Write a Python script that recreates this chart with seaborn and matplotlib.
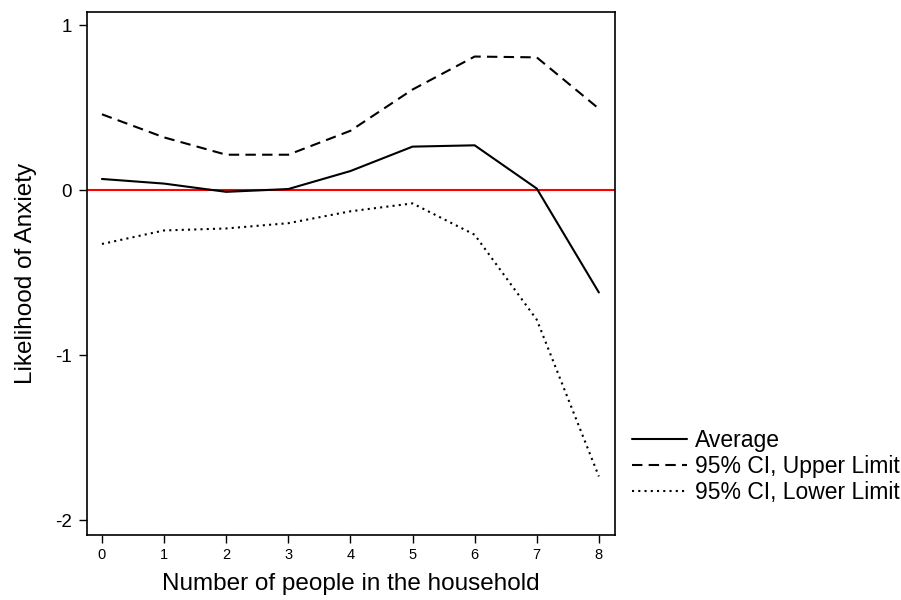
import numpy as np
import pandas as pd
import matplotlib
matplotlib.use("Agg")
import matplotlib.pyplot as plt
import seaborn as sns

household = [0, 1, 2, 3, 4, 5, 6, 7, 8]
average = [0.068, 0.04, -0.01, 0.007, 0.116, 0.264, 0.272, 0.01, -0.62]
upper = [0.46, 0.32, 0.215, 0.215, 0.36, 0.61, 0.81, 0.805, 0.494]
lower = [-0.326, -0.244, -0.232, -0.2, -0.128, -0.08, -0.27, -0.785, -1.735]
series_names = ["Average", "95% CI, Upper Limit", "95% CI, Lower Limit"]
y_ticks = [1, 0, -1, -2]

df = pd.concat([
    pd.DataFrame({"x": household, "y": vals, "series": name})
    for name, vals in zip(series_names, [average, upper, lower])
])

sns.set_style("white")
plt.rcParams["font.family"] = ["Liberation Sans", "DejaVu Sans"]
plt.rcParams["text.color"] = "black"
plt.rcParams["axes.labelcolor"] = "black"
plt.rcParams["xtick.color"] = "black"
plt.rcParams["ytick.color"] = "black"

fig = plt.figure(figsize=(9.01, 6.0), dpi=100)
ax = fig.add_axes([0.0966, 0.1083, 0.586, 0.8717])

sns.lineplot(
    data=df, x="x", y="y", style="series", style_order=series_names,
    dashes={series_names[0]: "", series_names[1]: (5, 3), series_names[2]: (1, 2)},
    color="black", linewidth=1.5, ax=ax, legend=True,
)
ax.axhline(0, color="red", linewidth=1.5, zorder=1)

ax.set_xlim(-0.24, 8.26)
ax.set_ylim(-2.09, 1.08)
ax.set_xticks(household)
ax.set_xticklabels([str(v) for v in household], fontsize=10.5)
ax.set_yticks(y_ticks)
ax.set_yticklabels([str(v) for v in y_ticks], fontsize=13.5)
ax.tick_params(axis="both", direction="out", length=6, width=1, color="black",
               bottom=True, left=True)
ax.tick_params(axis="y", pad=5)
ax.set_xlabel("Number of people in the household", fontsize=17.5, labelpad=8)
ax.set_ylabel("Likelihood of Anxiety", fontsize=17.5, labelpad=13)
for s in ax.spines.values():
    s.set_color("black")
    s.set_linewidth(1.2)

handles, labels = ax.get_legend_handles_labels()
ax.get_legend().remove()
fig.legend(handles, labels, loc="center left", bbox_to_anchor=(0.6916, 0.222),
           frameon=False, fontsize=16.5, handlelength=2.4, handletextpad=0.35,
           labelspacing=0.13, borderaxespad=0)

fig.savefig("out.png", dpi=100)
